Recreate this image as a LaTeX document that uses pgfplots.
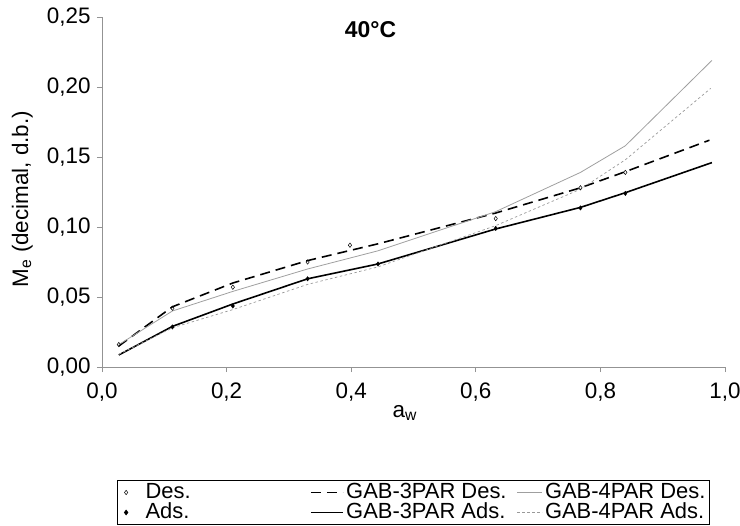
\documentclass[border=0pt]{standalone}
\usepackage{fontspec}
\setmainfont{Liberation Sans}
\usepackage{pgfplots}
\pgfplotsset{compat=1.18}
\pgfplotsset{
  longline/.style={legend image code/.code={\draw[##1] (0bp,0bp) -- (32bp,0bp);}},
  shortline/.style={legend image code/.code={\draw[##1] (0bp,0bp) -- (25bp,0bp);}},
  markimg/.style={legend image code/.code={\path[draw=none,fill=none] (0bp,0bp) -- (24bp,0bp);
     \draw[mark repeat=2,mark phase=2,##1] plot coordinates {(2bp,0bp) (7bp,0bp) (12bp,0bp)};}},
}
\begin{document}
\begin{tikzpicture}[x=1bp,y=1bp]
\useasboundingbox (-102bp,-159bp) rectangle (638bp,367bp);
\begin{axis}[
  at={(0bp,0bp)}, anchor=south west,
  scale only axis, width=623bp, height=350bp,
  xmin=0, xmax=1, ymin=0, ymax=0.25,
  axis x line=bottom, axis y line=left,
  axis line style={-, draw=gray!85, line width=0.9pt},
  every tick/.style={draw=gray!85, line width=0.9pt},
  tick align=outside, major tick length=5bp,
  xtick={0,0.2,0.4,0.6,0.8,1.0},
  ytick={0,0.05,0.10,0.15,0.20,0.25},
  /pgf/number format/assume math mode=true,
  tick label style={font=\fontsize{22.5}{26}\selectfont},
  xticklabel style={yshift=-7bp, /pgf/number format/.cd, fixed, fixed zerofill, precision=1, use comma},
  yticklabel style={xshift=-3bp, /pgf/number format/.cd, fixed, fixed zerofill, precision=2, use comma},
  xlabel={a\textsubscript{w}},
  ylabel={M\textsubscript{e} (decimal, d.b.)},
  label style={font=\fontsize{22.5}{26}\selectfont},
  x label style={at={(axis description cs:0.486,-0.132)}, anchor=center},
  y label style={at={(axis description cs:-0.128,0.48)}, anchor=center},
  legend columns=3,
  legend cell align=left,
  legend style={at={(axis description cs:0.5,-0.323)}, anchor=north,
    draw=black, line width=0.9pt, font=\fontsize{22}{25}\selectfont,
    inner sep=2bp, row sep=0bp, column sep=0bp,
    /tikz/every node/.append style={inner xsep=2.5bp, inner ysep=0bp, text height=15.5bp, text depth=4.5bp}},
  clip=false,
]
% Des. data
\addplot[only marks, mark=diamond, mark size=2.2bp, black, line width=0.5pt, markimg] coordinates {
 (0.027,0.016) (0.113,0.042) (0.21,0.057) (0.33,0.075) (0.398,0.087) (0.632,0.106) (0.768,0.128) (0.84,0.139)};
\addlegendentry{\makebox[162bp][l]{Des.}}
% GAB-3PAR Des.
\addplot[black, line width=1.6pt, dash pattern=on 10bp off 6bp, no marks, longline] coordinates {
 (0.027,0.015) (0.113,0.043) (0.21,0.060) (0.33,0.076) (0.443,0.088) (0.632,0.110) (0.768,0.128) (0.84,0.1395) (0.975,0.162)};
\addlegendentry{\makebox[168bp][l]{GAB-3PAR Des.}}
% GAB-4PAR Des.
\addplot[gray!75, line width=0.8pt, no marks, shortline] coordinates {
 (0.027,0.016) (0.113,0.040) (0.21,0.054) (0.33,0.070) (0.443,0.083) (0.632,0.111) (0.768,0.139) (0.84,0.158) (0.979,0.219)};
\addlegendentry{GAB-4PAR Des.}
% Ads. data
\addplot[only marks, mark=diamond*, mark size=2.2bp, black, markimg] coordinates {
 (0.113,0.0286) (0.21,0.0436) (0.33,0.063) (0.443,0.0736) (0.632,0.099) (0.768,0.1136) (0.84,0.124)};
\addlegendentry{\makebox[162bp][l]{Ads.}}
% GAB-3PAR Ads.
\addplot[black, line width=1.6pt, no marks, longline] coordinates {
 (0.027,0.0086) (0.113,0.029) (0.21,0.045) (0.33,0.063) (0.443,0.0736) (0.632,0.0986) (0.768,0.114) (0.84,0.1245) (0.979,0.146)};
\addlegendentry{\makebox[168bp][l]{GAB-3PAR Ads.}}
% GAB-4PAR Ads.
\addplot[gray!80, line width=0.7pt, dash pattern=on 2.5bp off 2.5bp, no marks, shortline] coordinates {
 (0.027,0.009) (0.113,0.028) (0.21,0.041) (0.33,0.059) (0.443,0.0715) (0.632,0.101) (0.768,0.127) (0.84,0.148) (0.977,0.199)};
\addlegendentry{GAB-4PAR Ads.}
\node[font=\bfseries\fontsize{23}{26}\selectfont] at (rel axis cs:0.431,0.963) {40°C};
\end{axis}
\end{tikzpicture}
\end{document}
